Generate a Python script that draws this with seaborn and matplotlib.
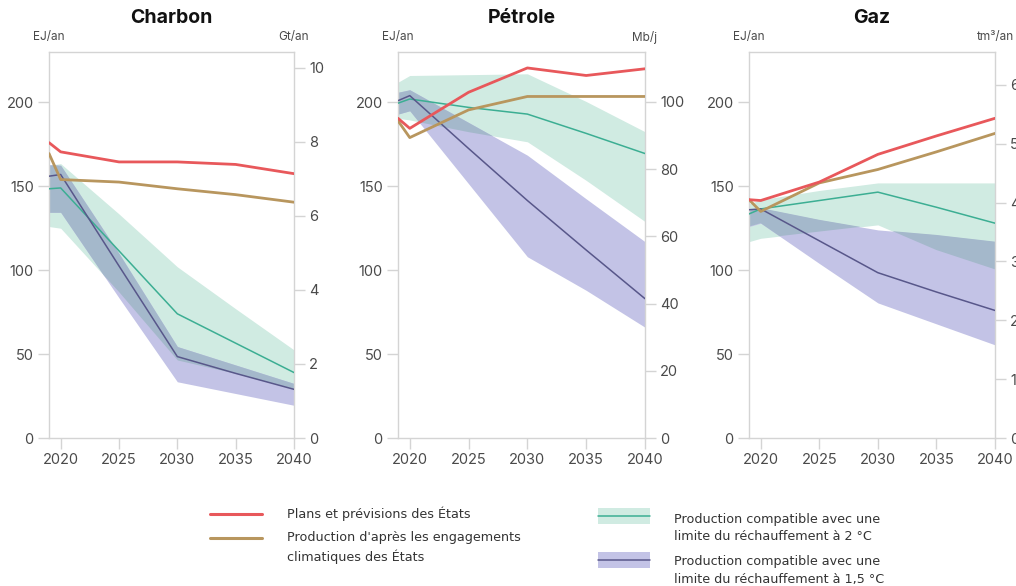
import numpy as np
import pandas as pd
import seaborn as sns
import matplotlib.pyplot as plt
from matplotlib.lines import Line2D
from matplotlib.patches import Rectangle

sns.set_style('white')
plt.rcParams['font.family'] = ['Inter', 'DejaVu Sans']

# annees
years = [2019, 2020, 2025, 2030, 2035, 2040]

# Charbon (EJ/an)
charbon_plans = [176, 170.5, 164.5, 164.5, 163, 157.5]
charbon_engag = [169.5, 154, 152.5, 148.5, 145, 140.5]
charbon_2c = [148.5, 149, 111.5, 74, 56.5, 39]
charbon_2c_hi = [162.5, 163.5, 133.5, 102, 77, 52.5]
charbon_2c_lo = [126, 125, 87, 46.5, 38.5, 29.5]
charbon_15c = [156, 157, 102.5, 48.5, 38.5, 29]
charbon_15c_hi = [163, 162.5, 110, 54.5, 43.5, 32.5]
charbon_15c_lo = [134.5, 134.5, 83.5, 33.5, 26.5, 19.5]

# Petrole (EJ/an)
petrole_plans = [190.5, 184.5, 206, 220.5, 216, 220]
petrole_engag = [189, 179, 195.5, 203.5, 203.5, 203.5]
petrole_2c = [199.5, 202, 197, 193, 181.5, 169.5]
petrole_2c_hi = [212, 216, 216.5, 217, 200.5, 182.5]
petrole_2c_lo = [190.5, 189.5, 182.5, 176.5, 153.5, 129]
petrole_15c = [201, 204, 172.5, 141.5, 112, 83]
petrole_15c_hi = [206, 207.5, 188, 168.5, 142.5, 117]
petrole_15c_lo = [193, 195, 151.5, 108, 88, 66]

# Gaz (EJ/an)
gaz_plans = [142, 141.5, 152.5, 169, 180, 190.5]
gaz_engag = [142, 135, 152, 160, 170.5, 181.5]
gaz_2c = [133.5, 136.5, 141.5, 146.5, 137.5, 128]
gaz_2c_hi = [139.5, 142, 147.5, 152, 152, 152]
gaz_2c_lo = [117, 119, 123, 127, 112, 100.5]
gaz_15c = [136, 136.5, 117.5, 98.5, 87, 76]
gaz_15c_hi = [135.5, 137, 130, 124, 121, 117]
gaz_15c_lo = [126, 128, 104, 80.5, 68, 55.5]

titles = ['Charbon', 'Pétrole', 'Gaz']
right_units = ['Gt/an', 'Mb/j', 'tm³/an']
right_top = [10.43, 114.8, 6.56]
right_ticks = [[0, 2, 4, 6, 8, 10], [0, 20, 40, 60, 80, 100], [0, 1, 2, 3, 4, 5, 6]]

panels = [
    (charbon_plans, charbon_engag, charbon_2c, charbon_2c_hi, charbon_2c_lo,
     charbon_15c, charbon_15c_hi, charbon_15c_lo),
    (petrole_plans, petrole_engag, petrole_2c, petrole_2c_hi, petrole_2c_lo,
     petrole_15c, petrole_15c_hi, petrole_15c_lo),
    (gaz_plans, gaz_engag, gaz_2c, gaz_2c_hi, gaz_2c_lo,
     gaz_15c, gaz_15c_hi, gaz_15c_lo),
]

RED = '#e8585b'
GOLD = '#b8965e'
TEAL = '#3cae93'
MINT = '#d0ebe2'
NAVY = '#58578a'
LAV = '#c3c3e6'
OVER = '#a4b8cb'
SPINE = '#d4d4d4'
TXT = '#4a4a4a'

W, H = 1016, 586
fig = plt.figure(figsize=(W / 100, H / 100), dpi=100)

# positions des panneaux en pixels (gauche, droite)
boxes = [(49, 294), (398, 645), (749, 995)]
top_px, bot_px = 52, 438

for i, (x0, x1) in enumerate(boxes):
    plans, engag, c2, c2_hi, c2_lo, c15, c15_hi, c15_lo = panels[i]
    ax = fig.add_axes([x0 / W, (H - bot_px) / H, (x1 - x0) / W, (bot_px - top_px) / H])

    ax.fill_between(years, c2_lo, c2_hi, color=MINT, lw=0, zorder=1)
    ax.fill_between(years, c15_lo, c15_hi, color=LAV, lw=0, zorder=1.5)
    # zone de recouvrement des deux fourchettes
    xs = np.linspace(years[0], years[-1], 600)
    lo = np.maximum(np.interp(xs, years, c2_lo), np.interp(xs, years, c15_lo))
    hi = np.minimum(np.interp(xs, years, c2_hi), np.interp(xs, years, c15_hi))
    ax.fill_between(xs, lo, hi, where=hi > lo, color=OVER, lw=0, zorder=2)

    df = pd.DataFrame({'annee': years * 4,
                       'valeur': c2 + c15 + engag + plans,
                       'serie': ['2c'] * 6 + ['15c'] * 6 + ['engag'] * 6 + ['plans'] * 6})
    sns.lineplot(data=df, x='annee', y='valeur', hue='serie', size='serie',
                 palette={'2c': TEAL, '15c': NAVY, 'engag': GOLD, 'plans': RED},
                 sizes={'2c': 1.1, '15c': 1.1, 'engag': 2.0, 'plans': 2.0},
                 legend=False, ax=ax, zorder=3)

    ax.set_xlim(2019, 2040)
    ax.set_ylim(0, 230)
    ax.set_xticks([2020, 2025, 2030, 2035, 2040])
    ax.set_yticks([0, 50, 100, 150, 200])
    ax.set_xlabel('')
    ax.set_ylabel('')
    for s in ax.spines.values():
        s.set_color(SPINE)
        s.set_linewidth(1)
    ax.tick_params(length=8, width=1, color=SPINE, labelcolor=TXT, labelsize=10.5, pad=3,
                   left=True, bottom=True)

    ax2 = ax.twinx()
    ax2.set_ylim(0, right_top[i])
    ax2.set_yticks(right_ticks[i])
    for s in ax2.spines.values():
        s.set_visible(False)
    ax2.tick_params(length=8, width=1, color=SPINE, labelcolor=TXT, labelsize=10.5, pad=3,
                    right=True)

    fig.text((x0 + x1) / 2 / W, 1 - 18 / H, titles[i], ha='center', va='center',
             fontsize=14, fontweight='bold', color='#111111')
    fig.text(x0 / W, 1 - 37 / H, 'EJ/an', ha='center', va='center', fontsize=8.5, color=TXT)
    fig.text(x1 / W, 1 - 37 / H, right_units[i], ha='center', va='center', fontsize=8.5, color=TXT)

# legende
leg = fig.add_axes([0, 0, 1, 1], zorder=-1)
leg.set_xlim(0, W)
leg.set_ylim(H, 0)
leg.axis('off')
lfont = dict(fontsize=9.2, color='#333333', family=['Liberation Sans Narrow', 'DejaVu Sans'],
             va='center', ha='left')

leg.add_line(Line2D([210, 262], [514, 514], color=RED, lw=2.2))
leg.text(287, 514, 'Plans et prévisions des États', **lfont)
leg.add_line(Line2D([210, 262], [538, 538], color=GOLD, lw=2.2))
leg.text(287, 538, "Production d'après les engagements", **lfont)
leg.text(287, 557, 'climatiques des États', **lfont)

leg.add_patch(Rectangle((598, 508), 52, 16, color=MINT, lw=0))
leg.add_line(Line2D([598, 650], [516, 516], color=TEAL, lw=1.1))
leg.text(674, 519, 'Production compatible avec une', **lfont)
leg.text(674, 537, 'limite du réchauffement à 2 °C', **lfont)

leg.add_patch(Rectangle((598, 552), 52, 16, color=LAV, lw=0))
leg.add_line(Line2D([598, 650], [560, 560], color=NAVY, lw=1.1))
leg.text(674, 561, 'Production compatible avec une', **lfont)
leg.text(674, 579, 'limite du réchauffement à 1,5 °C', **lfont)

fig.savefig('out.png', dpi=100)
